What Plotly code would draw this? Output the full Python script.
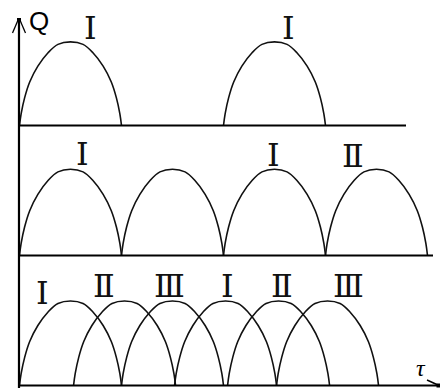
import plotly.graph_objects as go

# ---------------- data ----------------
# arch profile: fraction of the period vs relative height (one working period)
profile_t = [0, 0.016, 0.05, 0.1, 0.18, 0.28, 0.377, 0.5, 0.623, 0.72, 0.82, 0.9, 0.95, 0.984, 1.0]
profile_q = [0, 0.14, 0.33, 0.52, 0.71, 0.87, 0.97, 1.0, 0.97, 0.87, 0.71, 0.52, 0.33, 0.14, 0]

# start times (in units of one period) of each arch, per panel
top_starts = [0.0, 2.0]
middle_starts = [0.0, 1.0, 2.0, 3.0]
bottom_starts = [0.0, 0.53, 1.0, 1.52, 2.04, 2.52]

# peak heights per panel
top_peak = 0.99
middle_peak = 1.02
bottom_peak = 1.0

# labels: text, time position, height above panel baseline
top_labels = ["Ⅰ", "Ⅰ"]
top_label_t = [0.70, 2.64]
top_label_q = [1.15, 1.15]

middle_labels = ["Ⅰ", "Ⅰ", "Ⅱ"]
middle_label_t = [0.62, 2.49, 3.27]
middle_label_q = [1.20, 1.19, 1.18]

bottom_labels = ["Ⅰ", "Ⅱ", "Ⅲ", "Ⅰ", "Ⅱ", "Ⅲ"]
bottom_label_t = [0.23, 0.83, 1.47, 2.04, 2.57, 3.23]
bottom_label_q = [1.09, 1.18, 1.18, 1.18, 1.18, 1.18]

# ---------------- layout constants ----------------
W, H = 440, 390
X0_PX, UX = 19.5, 102.0      # px of t=0, px per period
BASE_PX, UY = 385.5, 84.5    # px of bottom baseline, px per unit height
PANEL_GAP = 130.0 / UY
panel_base = [2 * PANEL_GAP, PANEL_GAP, 0.0]
baseline_end = [(406 - X0_PX) / UX, (433 - X0_PX) / UX, (W - X0_PX) / UX]

LABEL_FONT = dict(family="Liberation Serif, DejaVu Serif", size=32, color="#111")

fig = go.Figure()

panels = [
    (top_starts, top_peak, top_labels, top_label_t, top_label_q),
    (middle_starts, middle_peak, middle_labels, middle_label_t, middle_label_q),
    (bottom_starts, bottom_peak, bottom_labels, bottom_label_t, bottom_label_q),
]

for i, (starts, peak, labels, lt, lq) in enumerate(panels):
    base = panel_base[i]
    for s in starts:
        fig.add_trace(go.Scatter(
            x=[s + f for f in profile_t],
            y=[base + peak * q for q in profile_q],
            mode="lines", line=dict(color="#111", width=1.6, shape="spline", smoothing=1.0),
            hoverinfo="skip", showlegend=False))
    # baseline
    fig.add_trace(go.Scatter(
        x=[0, baseline_end[i]], y=[base, base], mode="lines",
        line=dict(color="black", width=2.2), hoverinfo="skip", showlegend=False))
    for txt, t, q in zip(labels, lt, lq):
        fig.add_annotation(x=t, y=base + q, text=txt, showarrow=False,
                           xanchor="center", yanchor="middle", font=LABEL_FONT)

# vertical axis
fig.add_trace(go.Scatter(
    x=[-0.005, -0.005], y=[(BASE_PX - 388) / UY, (BASE_PX - 18) / UY], mode="lines",
    line=dict(color="black", width=2.2), hoverinfo="skip", showlegend=False))

def px(xp, yp):
    return xp / W, 1 - yp / H

# arrowheads (decoration)
shapes = []
for (xa, ya, xb, yb, w) in [
    (12.5, 33, 18.5, 19, 1.3), (25.5, 33, 19.5, 19, 1.3),
    (427, 380, 439, 385.5, 1.5),
]:
    a = px(xa, ya); b = px(xb, yb)
    shapes.append(dict(type="line", xref="paper", yref="paper",
                       x0=a[0], y0=a[1], x1=b[0], y1=b[1],
                       line=dict(color="black", width=w)))
for (xc, yc) in [(19, 20), (438.5, 385.5)]:
    a = px(xc - 2, yc - 2); b = px(xc + 2, yc + 2)
    shapes.append(dict(type="rect", xref="paper", yref="paper",
                       x0=a[0], y0=a[1], x1=b[0], y1=b[1],
                       fillcolor="black", line=dict(width=0)))

qx, qy = px(38.5, 21)
fig.add_annotation(x=qx, y=qy, xref="paper", yref="paper", text="Q", showarrow=False,
                   xanchor="center", yanchor="middle",
                   font=dict(family="Liberation Sans", size=26, color="black"))
tx, ty = px(421, 368)
fig.add_annotation(x=tx, y=ty, xref="paper", yref="paper", text="<i>τ</i>", showarrow=False,
                   xanchor="center", yanchor="middle",
                   font=dict(family="Liberation Serif", size=24, color="black"))

fig.update_layout(
    width=W, height=H, margin=dict(l=0, r=0, t=0, b=0),
    paper_bgcolor="white", plot_bgcolor="white", shapes=shapes,
    xaxis=dict(range=[-X0_PX / UX, (W - X0_PX) / UX], visible=False, fixedrange=True),
    yaxis=dict(range=[-(H - BASE_PX) / UY, BASE_PX / UY], visible=False, fixedrange=True),
)

fig.write_html("out.html", config={"displayModeBar": False},
               post_script="document.body.style.margin='0';document.body.style.padding='0';")
